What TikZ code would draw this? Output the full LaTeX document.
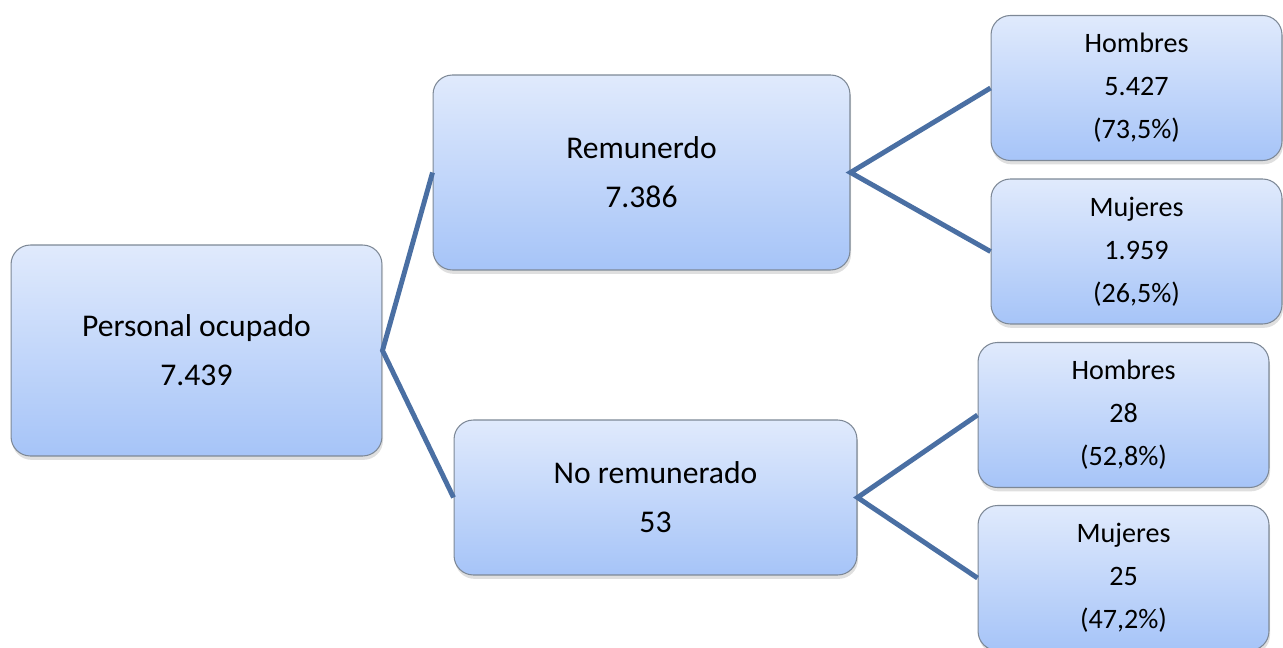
\documentclass[tikz,border=0pt]{standalone}
\usepackage{fontspec}
\setmainfont{Carlito}
\usepackage{tikz}
\usetikzlibrary{shadows}
\usepackage{xcolor}

\definecolor{boxtop}{HTML}{E0EAFC}
\definecolor{boxbottom}{HTML}{A6C4F8}
\definecolor{boxline}{HTML}{7D8896}
\definecolor{linkblue}{HTML}{4A6FA3}

\tikzset{
    box/.style={rectangle, rounded corners=11pt, draw=boxline, line width=0.6pt,
        top color=boxtop, bottom color=boxbottom, align=center,
        drop shadow={opacity=0.25, shadow xshift=0.6pt, shadow yshift=-2.2pt}},
    bigbox/.style={box, font=\fontsize{18}{27.8}\selectfont},
    leafbox/.style={box, font=\fontsize{16}{24.4}\selectfont,
        minimum width=5.82cm, minimum height=2.9cm},
    link/.style={draw=linkblue, line width=2.8pt}
}

\begin{document}
\begin{tikzpicture}[x=0.02cm, y=-0.02cm]

    \useasboundingbox (0,0) rectangle (1283,648);

    % Boxes
    \node[bigbox, minimum width=7.42cm, minimum height=4.22cm] (total) at (196.5, 350.5) {Personal ocupado\\7.439};
    \node[bigbox, minimum width=8.34cm, minimum height=3.9cm] (rem) at (641.5, 172.5) {Remunerdo\\7.386};
    \node[bigbox, minimum width=8.06cm, minimum height=3.1cm] (norem) at (655.5, 497.5) {No remunerado\\53};

    \node[leafbox] (remH) at (1136.5, 88) {Hombres\\5.427\\(73,5\%)};
    \node[leafbox] (remM) at (1136.5, 251.5) {Mujeres\\1.959\\(26,5\%)};
    \node[leafbox] (noremH) at (1123.5, 415) {Hombres\\28\\(52,8\%)};
    \node[leafbox] (noremM) at (1123.5, 578) {Mujeres\\25\\(47,2\%)};

    % Links
    \draw[link] (rem.west) -- (total.east) -- (norem.west);
    \draw[link] (remH.west) -- (rem.east) -- (remM.west);
    \draw[link] (noremH.west) -- (norem.east) -- (noremM.west);

\end{tikzpicture}
\end{document}
